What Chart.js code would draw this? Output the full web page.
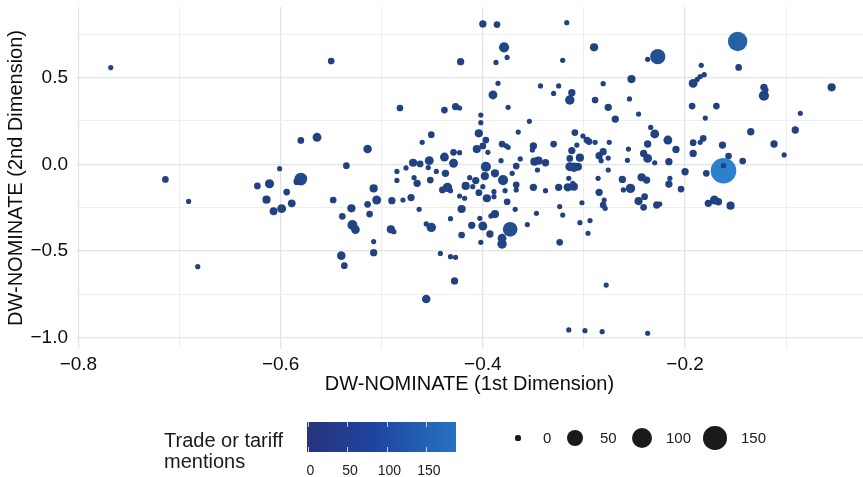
<!DOCTYPE html>
<html><head><meta charset="utf-8">
<script src="https://cdn.jsdelivr.net/npm/chart.js@4/dist/chart.umd.min.js"></script>
<style>
html,body{margin:0;padding:0;background:#fff;}
#wrap{position:relative;width:863px;height:477px;overflow:hidden;font-family:"Liberation Sans",Arial,Helvetica,sans-serif;color:#1a1a1a;}
#c{position:absolute;left:0;top:0;}
.t{position:absolute;white-space:nowrap;line-height:1;}
</style></head><body>
<div id="wrap"><canvas id="c" width="863" height="477"></canvas></div>
<script>
// ---- data: DW-NOMINATE 1st dim, 2nd dim, trade/tariff mentions (parallel arrays) ----
const dw1 = [
 -0.768,-0.550,-0.714,-0.691,-0.682,-0.623,-0.611,-0.601,-0.614,-0.607,-0.599,-0.594,-0.589,-0.580,-0.564,-0.580,-0.584,-0.548,-0.535,-0.539,-0.530,-0.529,-0.526,-0.540,-0.537,-0.514,-0.514,-0.512,-0.456,
 -0.390,-0.482,-0.438,-0.427,-0.423,-0.375,-0.402,-0.354,-0.402,-0.404,
 -0.451,-0.365,-0.460,-0.397,-0.381,-0.377,-0.375,-0.406,-0.400,-0.350,
 -0.351,-0.429,-0.423,-0.438,-0.429,-0.395,-0.469,-0.462,-0.453,-0.454,
 -0.476,-0.485,-0.446,-0.437,-0.397,-0.382,-0.363,-0.367,-0.349,-0.345,
 -0.346,-0.388,-0.371,-0.398,-0.413,-0.407,-0.380,-0.452,-0.485,-0.465,
 -0.468,-0.417,-0.410,-0.435,-0.440,-0.432,-0.400,-0.404,-0.396,-0.389,
 -0.389,-0.367,-0.367,-0.378,-0.350,-0.508,-0.505,-0.490,-0.479,-0.471,
 -0.423,-0.418,-0.376,-0.463,-0.421,-0.368,-0.347,-0.388,-0.392,-0.432,
 -0.403,-0.491,-0.488,-0.456,-0.451,-0.411,-0.400,-0.356,-0.373,-0.381,
 -0.381,-0.393,-0.421,-0.402,-0.508,-0.508,-0.442,-0.432,-0.427,
 -0.330,-0.312,-0.314,-0.289,-0.276,-0.255,-0.269,-0.246,-0.193,-0.169,
 -0.180,-0.309,-0.301,-0.297,-0.295,-0.289,-0.275,-0.330,-0.234,-0.230,
 -0.217,-0.237,-0.192,-0.182,-0.185,-0.209,-0.192,-0.312,-0.307,-0.281,
 -0.285,-0.276,-0.256,-0.241,-0.237,-0.230,-0.257,-0.283,-0.216,-0.304,
 -0.314,-0.338,-0.314,-0.310,-0.306,-0.276,-0.286,-0.315,-0.338,-0.325,
 -0.316,-0.310,-0.311,-0.262,-0.254,-0.261,-0.243,-0.238,-0.215,-0.216,
 -0.200,-0.179,-0.204,-0.285,-0.302,-0.280,-0.281,-0.279,-0.240,-0.246,
 -0.241,-0.228,-0.225,-0.324,-0.321,-0.304,-0.294,-0.296,-0.324,-0.177,
 -0.171,-0.167,
 -0.400,-0.386,-0.317,-0.379,-0.290,-0.422,-0.387,-0.376,-0.321,-0.227,
 -0.237,-0.148,-0.147,-0.184,-0.253,-0.281,-0.343,-0.325,-0.385,-0.192,
 -0.188,-0.185,-0.181,-0.122,-0.055,-0.122,-0.120,-0.086,-0.135,-0.091,
 -0.112,-0.102,-0.163,-0.157,-0.143,-0.162,-0.162,-0.155,-0.428,-0.278,
 -0.315,-0.299,-0.282,-0.237
];
const dw2 = [
 0.558,0.596,-0.087,-0.214,-0.591,-0.125,-0.112,-0.025,-0.204,-0.271,-0.256,-0.160,-0.225,0.138,0.156,-0.085,-0.100,-0.206,-0.008,-0.300,-0.254,-0.350,-0.377,-0.527,-0.585,0.088,-0.231,-0.287,-0.777,
 0.400,0.325,0.313,0.333,0.325,0.329,0.284,0.248,0.240,0.179,
 0.171,0.186,0.127,0.140,0.117,0.107,0.098,0.088,0.106,0.106,
 0.083,0.069,0.067,0.042,0.006,0.069,0.009,0.002,0.021,-0.019,
 -0.021,-0.041,-0.041,-0.052,-0.014,0.021,0.031,-0.010,0.015,0.021,
 -0.033,-0.052,-0.052,-0.068,-0.077,-0.094,-0.091,-0.091,-0.093,-0.110,
 -0.077,-0.125,-0.129,-0.133,-0.148,-0.152,-0.129,-0.164,-0.196,-0.158,
 -0.187,-0.118,-0.148,-0.152,-0.133,-0.139,-0.206,-0.210,-0.206,-0.192,
 -0.183,-0.196,-0.216,-0.260,-0.258,-0.260,-0.283,-0.287,-0.298,-0.314,
 -0.312,-0.375,-0.389,-0.344,-0.364,-0.352,-0.356,-0.348,-0.375,-0.427,
 -0.460,-0.402,-0.408,-0.450,-0.446,-0.510,-0.514,-0.533,-0.537,
 0.409,0.413,0.371,0.371,0.329,0.377,0.261,0.290,0.336,0.336,
 0.267,0.183,0.163,0.140,0.131,0.127,0.127,0.117,0.213,0.175,
 0.140,0.117,0.125,0.150,0.127,0.086,0.063,0.079,0.111,0.073,
 0.050,0.036,0.088,0.063,0.034,0.009,0.023,0.021,0.015,0.038,
 0.034,0.009,-0.014,-0.017,-0.014,-0.033,-0.081,-0.081,-0.152,-0.133,
 -0.133,-0.129,-0.110,-0.087,-0.139,-0.148,-0.075,-0.091,-0.081,-0.114,
 -0.043,-0.052,-0.143,-0.162,-0.222,-0.206,-0.235,-0.254,-0.187,-0.212,
 -0.248,-0.235,-0.229,-0.244,-0.293,-0.337,-0.325,-0.398,-0.450,-0.225,
 -0.206,-0.216,
 0.810,0.806,0.817,0.675,0.675,0.592,0.588,0.617,0.600,0.621,
 0.606,0.709,0.559,0.571,0.492,0.465,0.452,0.452,0.467,0.467,
 0.490,0.506,0.517,0.444,0.444,0.396,0.429,0.294,0.188,0.198,
 0.117,0.054,0.111,0.048,0.019,-0.037,-0.008,-0.239,-0.673,-0.697,
 -0.956,-0.960,-0.966,-0.975
];
const mentions = [
 0,1,1,0,0,1,7,0,4,3,6,1,3,1,6,25,1,1,1,1,4,10,5,5,1,5,1,1,5,
 6,1,1,2,0,0,0,0,0,4,
 1,0,0,1,1,0,0,4,1,2,
 0,1,0,6,6,0,4,1,6,0,
 0,0,0,2,11,0,0,1,4,4,
 0,4,0,4,0,2,11,1,0,2,
 0,4,0,8,1,0,0,1,4,0,
 0,1,0,0,2,4,6,2,0,2,
 0,0,1,0,4,0,0,4,0,0,
 0,4,0,0,8,2,6,0,40,6,
 8,2,1,0,0,2,0,0,0,
 0,2,8,1,2,0,2,0,1,1,
 0,1,0,1,1,0,0,1,0,6,
 6,2,1,1,0,2,2,2,0,2,
 2,0,0,2,6,0,0,0,2,4,
 1,2,6,8,4,0,0,0,0,2,
 4,4,0,2,8,0,4,2,0,2,
 2,1,1,2,0,0,1,0,1,4,
 1,2,0,0,0,0,0,0,1,2,
 6,2,
 2,1,0,11,4,2,0,0,0,45,
 0,90,1,0,4,0,0,0,0,6,
 0,0,0,2,4,11,0,0,2,2,
 2,0,2,1,1,185,0,4,2,0,
 0,0,0,0
];
// ---- ticks ----
const xGridValues = [-0.8,-0.7,-0.6,-0.5,-0.4,-0.3,-0.2,-0.1];
const xMajorValues = [-0.8,-0.6,-0.4,-0.2];
const xTickLabels = ['\u22120.8','\u22120.6','\u22120.4','\u22120.2'];
const yGridValues = [0.75,0.5,0.25,0,-0.25,-0.5,-0.75,-1.0];
const yMajorValues = [0.5,0,-0.5,-1.0];
const yTickLabels = ['0.5','0.0','\u22120.5','\u22121.0'];
const legendBreaks = [0,50,100,150];
const legendBreakLabels = ['0','50','100','150'];

// ---- styling ----
const FONT = '"Liberation Sans", Arial, Helvetica, sans-serif';
const TXT = '#0d0d0d';
const mMax = Math.max(...mentions);
const PT_LOW = [33,65,128], PT_HIGH = [44,128,205];
const BAR_LOW = '#28337a', BAR_HIGH = '#2673c0';
function colorOf(m){
  const t = Math.min(1, m/mMax);
  const c = PT_LOW.map((v,i)=>Math.round(v + (PT_HIGH[i]-v)*t));
  return 'rgb('+c.join(',')+')';
}
function radiusOf(m){ return 2.6 + 10.2*Math.sqrt(Math.max(0,m)/mMax); }
function findLabel(v, majors, labels){
  for (let i=0;i<majors.length;i++) if (Math.abs(v-majors[i])<1e-6) return labels[i];
  return '';
}
function isMajor(v, majors){ return majors.some(t=>Math.abs(v-t)<1e-6); }
function noPad(s){ s.paddingLeft = 0; s.paddingRight = 0; s.paddingTop = 0; s.paddingBottom = 0; }

Chart.defaults.font.family = FONT;
const points = dw1.map((x,i)=>({x:x, y:dw2[i]}));

new Chart(document.getElementById('c'), {
  type: 'scatter',
  data: { datasets: [{
    data: points,
    pointRadius: c => radiusOf(mentions[c.dataIndex]),
    pointHoverRadius: c => radiusOf(mentions[c.dataIndex]),
    pointBackgroundColor: c => colorOf(mentions[c.dataIndex]),
    pointBorderWidth: 0,
    pointBorderColor: 'rgba(0,0,0,0)'
  }]},
  options: {
    responsive: false, animation: false, devicePixelRatio: 1, events: [],
    layout: { autoPadding: false, padding: { top: 7, right: 0, bottom: 78, left: 0 } },
    plugins: { legend: { display: false }, tooltip: { enabled: false } },
    scales: {
      x: {
        type: 'linear', min: -0.8024, max: -0.024,
        afterBuildTicks: s => { s.ticks = xGridValues.map(v => ({ value: v })); },
        afterFit: s => { s.height = 50; noPad(s); },
        border: { display: false },
        grid: { drawTicks: false,
          color: c => isMajor(c.tick.value, xMajorValues) ? '#e4e4e4' : '#eeeeee',
          lineWidth: c => isMajor(c.tick.value, xMajorValues) ? 1.3 : 1.0 },
        ticks: { autoSkip: false, maxRotation: 0, padding: 4, color: TXT,
          font: { size: 19 }, callback: v => findLabel(v, xMajorValues, xTickLabels) },
        title: { display: true, text: 'DW-NOMINATE (1st Dimension)', color: TXT,
          font: { size: 20 }, padding: { top: 0, bottom: 3 } }
      },
      y: {
        type: 'linear', min: -1.0658, max: 0.9077,
        afterBuildTicks: s => { s.ticks = yGridValues.map(v => ({ value: v })); },
        afterFit: s => { s.width = 76; noPad(s); },
        border: { display: false },
        grid: { drawTicks: false,
          color: c => isMajor(c.tick.value, yMajorValues) ? '#e4e4e4' : '#eeeeee',
          lineWidth: c => isMajor(c.tick.value, yMajorValues) ? 1.3 : 1.0 },
        ticks: { autoSkip: false, padding: 8, color: TXT,
          font: { size: 19 }, callback: v => findLabel(v, yMajorValues, yTickLabels) },
        title: { display: true, text: 'DW-NOMINATE (2nd Dimension)', color: TXT,
          font: { size: 20 }, padding: { top: 4, bottom: 0 } }
      }
    }
  }
});

// ---- legends (HTML) ----
const wrap = document.getElementById('wrap');
function addText(txt, left, top, size, align){
  const d = document.createElement('div');
  d.className = 't'; d.textContent = txt;
  d.style.fontSize = size + 'px'; d.style.top = top + 'px';
  if (align === 'center') { d.style.left = (left - 50) + 'px'; d.style.width = '100px'; d.style.textAlign = 'center'; }
  else d.style.left = left + 'px';
  wrap.appendChild(d); return d;
}
// colour legend title
const ttl = addText('', 164, 430, 20);
ttl.style.lineHeight = '21px';
ttl.innerHTML = 'Trade or tariff<br>mentions';
// colour bar
const BAR_L = 307, BAR_T = 422, BAR_W = 149, BAR_H = 30;
const bar = document.createElement('div');
bar.style.cssText = `position:absolute;left:${BAR_L}px;top:${BAR_T}px;width:${BAR_W}px;height:${BAR_H}px;background:linear-gradient(to right, ${BAR_LOW}, #1f44a0 45%, ${BAR_HIGH});`;
wrap.appendChild(bar);
legendBreaks.forEach((m,i)=>{
  const x = BAR_L + 1.5 + (m/mMax)*(BAR_W-3);
  ['top','bottom'].forEach(side=>{
    const tk = document.createElement('div');
    tk.style.cssText = `position:absolute;left:${x-0.5}px;${side}:${side==='top'?BAR_T:477-BAR_T-BAR_H}px;width:1px;height:5px;background:rgba(255,255,255,0.75);`;
    wrap.appendChild(tk);
  });
  addText(legendBreakLabels[i], x + 2, 463, 14, 'center');
});
// size legend
const dotCenters = [518, 575, 642, 715];
const labelLefts = [543, 600, 666, 741];
legendBreaks.forEach((m,i)=>{
  const r = radiusOf(m);
  const d = document.createElement('div');
  d.style.cssText = `position:absolute;left:${dotCenters[i]-r}px;top:${438-r}px;width:${2*r}px;height:${2*r}px;border-radius:50%;background:#1a1a1a;`;
  wrap.appendChild(d);
  addText(legendBreakLabels[i], labelLefts[i], 430, 15);
});
</script></body></html>
